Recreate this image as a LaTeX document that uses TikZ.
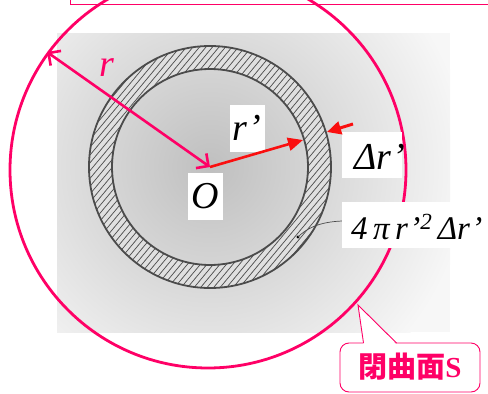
\documentclass[tikz,border=0pt]{standalone}
\usepackage{fontspec}
\setmainfont{Liberation Serif}
\newfontfamily\jp{Noto Sans CJK JP}
\usetikzlibrary{arrows.meta}
\definecolor{pinkc}{RGB}{255,0,102}
\definecolor{redc}{RGB}{250,15,15}
\definecolor{ringline}{RGB}{75,75,75}
\tikzset{
  lbl/.style={fill=white, inner sep=0pt, font=\itshape},
  plain/.style={inner sep=0pt, font=\itshape},
  ringedge/.style={draw=ringline, line width=1.8pt},
  hatchline/.style={draw=ringline, line width=0.7pt},
  pinkline/.style={draw=pinkc, line width=2.8pt},
  thinpink/.style={draw=pinkc, line width=0.9pt},
}
\begin{document}
\begin{tikzpicture}[x=1pt,y=-1pt]
\useasboundingbox (0,0) rectangle (488,394);
\coordinate (O) at (210,167);
\coordinate (C) at (208,170);
% scanned background
\begin{scope}
  \clip (57,33) rectangle (450,332);
  \fill[black!3] (57,33) rectangle (450,332);
  \shade[inner color=black!25, outer color=black!3] (O) circle (260);
\end{scope}
% ring
\fill[black!12, even odd rule] (O) circle (121) (O) circle (98);
\begin{scope}[even odd rule]
  \clip (O) circle (121) (O) circle (98);
  \foreach \i in {-46,...,46}
    \draw[hatchline] ([shift={(\i*6.5-150,180)}]O) -- ++(300,-360);
\end{scope}
\draw[ringedge] (O) circle (121);
\draw[ringedge] (O) circle (98);
% leader line to the shell
\coordinate (dot) at (298,237);
\fill[black] (dot) circle (1.6);
\draw[draw=ringline, line width=0.7pt] (342,221) .. controls (318,222) and (306,229) .. (dot);
% outer closed surface
\draw[pinkline] (C) circle (198);
% top box edge
\draw[thinpink] (70,-10) rectangle (492,4.5);
% label boxes
\node[lbl, minimum width=35pt, minimum height=47pt, font=\itshape\fontsize{38}{40}\selectfont] (rp) at (247,128) {r’};
\node[lbl, minimum width=35pt, minimum height=47pt, font=\itshape\fontsize{38}{40}\selectfont] (Olab) at (205,196) {O};
\node[lbl, minimum width=60pt, minimum height=46pt] (dr) at (372,155) {};
\node[plain, anchor=west, font=\itshape\fontsize{38}{40}\selectfont] (drtext) at (354,157) {Δr’};
\node[lbl, minimum width=150pt, minimum height=46pt] (vol) at (417,225) {};
\node[plain, anchor=west, font=\itshape\fontsize{33}{36}\selectfont] (voltext) at (351,227) {4\,π\,r’\textsuperscript{2}\,Δr’};
% radius r of the closed surface
\coordinate (P) at (47,52);
\draw[pinkc, line width=2.6pt, {Straight Barb[length=9pt,width=18pt]}-{Straight Barb[length=9pt,width=18pt]}] (P) -- (O);
\node[text=pinkc, font=\itshape\fontsize{38}{40}\selectfont] (rlab) at (107,68) {r};
% red radius r'
\coordinate (R1) at (303,140);
\draw[redc, line width=2.6pt, -{Triangle[length=15pt,width=13pt]}] (O) -- (R1);
% delta r' arrow
\coordinate (D1) at (353,124);
\coordinate (D2) at (327,132);
\draw[redc, line width=3pt, -{Triangle[length=14pt,width=13pt]}] (D1) -- (D2);
% callout
\coordinate (tip) at (358,305);
\draw[thinpink, fill=white, rounded corners=9pt] (340,343) rectangle (480,392);
\fill[white] (363.5,344.6) -- (tip) -- (396.5,344.6) -- cycle;
\draw[thinpink] (363.5,343) -- (tip) -- (396.5,343);
\node[text=pinkc, inner sep=0pt, font=\fontsize{29}{32}\selectfont\bfseries] (cs) at (410,367) {{\jp 閉曲面}S};
\end{tikzpicture}
\end{document}
